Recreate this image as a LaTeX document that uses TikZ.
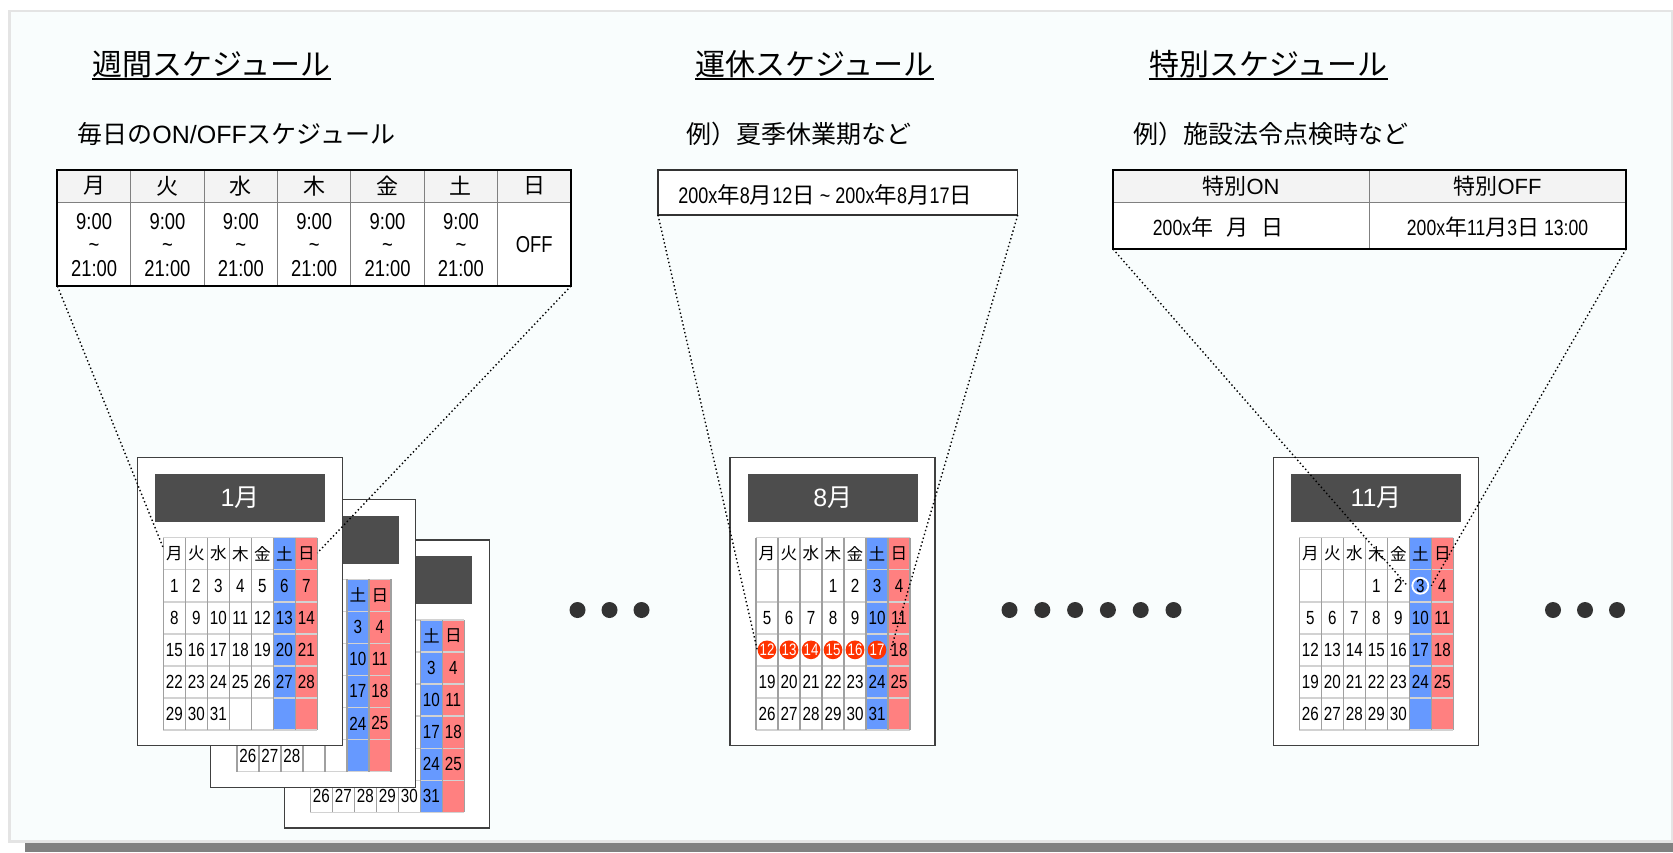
\documentclass[tikz,border=0pt]{standalone}
\usepackage{fontspec}
\setmainfont{Noto Sans CJK JP}
\newfontfamily\lat{Liberation Sans}
\newfontfamily\latn[FakeStretch=0.8]{Liberation Sans}
\newcommand\lnum[1]{{\latn #1}}
\newcommand\lnor[1]{{\lat #1}}
\definecolor{bgc}{RGB}{249,253,253}
\definecolor{framec}{RGB}{228,228,228}
\definecolor{bandc}{RGB}{128,128,128}
\definecolor{barc}{RGB}{77,77,77}
\definecolor{satc}{RGB}{102,153,255}
\definecolor{sunc}{RGB}{255,128,128}
\definecolor{hlc}{RGB}{255,51,0}
\definecolor{dotc}{RGB}{51,51,51}
\definecolor{hdrc}{RGB}{243,243,243}
\definecolor{tgridc}{RGB}{128,128,128}
\definecolor{boxc}{RGB}{51,51,51}
\definecolor{calc}{RGB}{64,64,64}
\definecolor{vgridc}{RGB}{160,160,160}
\definecolor{hgridc}{RGB}{210,210,210}
\tikzset{
  ttl/.style={anchor=base west, inner sep=0, font=\fontsize{15}{18}\selectfont},
  subt/.style={anchor=west, inner sep=0, font=\fontsize{12.5}{15}\selectfont},
  tgrid/.style={draw=tgridc, line width=0.5pt},
  tbl/.style={draw=black, line width=1pt, inner sep=0, outer sep=0},
  thead/.style={inner sep=0, font=\fontsize{11}{12}\selectfont},
  tbody/.style={inner sep=0, align=center, font={\latn\fontsize{11.5}{11.75}\selectfont}},
  cellt/.style={inner sep=0, font=\fontsize{11}{13}\selectfont},
  calborder/.style={draw=calc, line width=0.6pt, fill=white},
  calbar/.style={fill=barc, minimum width=85pt, minimum height=24pt, inner sep=0, text=white, font=\fontsize{12.5}{14}\selectfont},
  vgridl/.style={draw=vgridc, line width=0.7pt},
  hgridl/.style={draw=hgridc, line width=0.7pt},
  wday/.style={inner sep=0, font=\fontsize{8.3}{9}\selectfont},
  dnum/.style={inner sep=0, font={\latn\fontsize{9.5}{10}\selectfont}},
  hlcirc/.style={circle, fill=hlc, minimum size=9pt, inner sep=0, text=white, font={\latn\fontsize{8.3}{9}\selectfont}},
  ringc/.style={circle, draw=white, line width=0.9pt, minimum size=8pt, inner sep=0},
  dotn/.style={circle, fill=dotc, minimum size=8pt, inner sep=0},
  zoomline/.style={draw=black, line width=0.7pt, dash pattern=on 0.7pt off 1.3pt},
}
% #1 ox, #2 oy, #3 first weekday column, #4 days, #5 label, #6 name,
% #7 fully visible, #8/#9 first/last highlighted day
\newcommand\drawcal[9]{%
  \begin{scope}[shift={(#1,#2)}]
    \draw[calborder] (0,0) rectangle (205,288);
    \node[calbar] (#6) at (102.7,40.3) {#5};
    \fill[white] (26,80) rectangle (136,272.3);
    \fill[satc] (136,80) rectangle (158,272.3);
    \fill[sunc] (158,80) rectangle (180,272.3);
    \foreach \rw in {0,...,6} \draw[hgridl] (26,{80+32.05*\rw}) -- (180,{80+32.05*\rw});
    \foreach \cl in {0,...,7} \draw[vgridl] ({26+22*\cl},80) -- ({26+22*\cl},272.3);
    \foreach \w [count=\cl from 0] in {月,火,水,木,金,土,日} {
      \pgfmathtruncatemacro\showit{max(#7,\cl>4)}
      \ifnum\showit=1 \node[wday] (#6w\cl) at ({37+22*\cl},96) {\w};\fi
    }
    \foreach \d in {1,...,#4} {
      \pgfmathtruncatemacro\pp{#3+\d-1}
      \pgfmathtruncatemacro\rr{floor(\pp/7)+1}
      \pgfmathtruncatemacro\cc{mod(\pp,7)}
      \pgfmathtruncatemacro\showit{max(#7,\cc>4,\rr==5)}
      \pgfmathtruncatemacro\ishl{and(\d>=#8,\d<=#9)}
      \ifnum\showit=1
        \ifnum\ishl=1
          \node[hlcirc] (#6h\d) at ({37+22*\cc},{96+32.05*\rr}) {\d};
        \else
          \node[dnum] (#6d\d) at ({37+22*\cc},{96+32.05*\rr}) {\d};
        \fi
      \fi
    }
  \end{scope}}
\begin{document}
\begin{tikzpicture}[x=0.5pt,y=-0.5pt]
\useasboundingbox (0,0) rectangle (1673,852);
\fill[white] (0,0) rectangle (1673,852);
\fill[bandc] (25,843) rectangle (1673,852);
\draw[draw=framec, line width=1.2pt, fill=bgc] (9.5,11) rectangle (1672,841.5);

% titles
\node[ttl] (t1) at (92,75) {週間スケジュール};
\node[ttl] (t2) at (695,75) {運休スケジュール};
\node[ttl] (t3) at (1149,75) {特別スケジュール};
\foreach \t in {t1,t2,t3}
  \draw[line width=1pt] ([yshift=-2pt]\t.base west) -- ([yshift=-2pt]\t.base east);

% subtitles
\node[subt] (s1) at (77,134) {毎日の\lnor{ON/OFF}スケジュール};
\node[subt] (s2) at (686,134) {例）夏季休業期など};
\node[subt] (s3) at (1133,134) {例）施設法令点検時など};

% weekly table
\fill[hdrc] (57.4,170) rectangle (571,202);
\fill[white] (57.4,202) rectangle (571,286);
\foreach \i in {1,...,6} \draw[tgrid] ({57.4+73.37*\i},170) -- ({57.4+73.37*\i},286);
\draw[tgrid] (57.4,202) -- (571,202);
\node[tbl, minimum width=256.8pt, minimum height=58pt] (wt) at (314.2,228) {};
\foreach \w [count=\i from 0] in {月,火,水,木,金,土,日}
  \node[thead] (wh\i) at ({57.4+73.37*(\i+0.5)},186) {\w};
\foreach \i in {0,...,5}
  \node[tbody] (wb\i) at ({57.4+73.37*(\i+0.5)},245) {9:00\\\textasciitilde\\21:00};
\node[tbody] (wb6) at ({57.4+73.37*6.5},245) {OFF};

% holiday box
\node[draw=boxc, line width=0.7pt, fill=white, minimum width=179.85pt, minimum height=22.5pt, inner sep=0, outer sep=0] (hb) at (837.85,192.5) {};
\node[anchor=west, inner sep=0, font=\fontsize{11.25}{13}\selectfont] (hbt) at (678,195)
  {\lnum{200x}年\lnum{8}月\lnum{12}日\lnum{\ \textasciitilde\ 200x}年\lnum{8}月\lnum{17}日};

% special table
\fill[hdrc] (1113,170) rectangle (1626,202);
\fill[white] (1113,202) rectangle (1626,249);
\draw[tgrid] (1369,170) -- (1369,249);
\draw[tgrid] (1113,202) -- (1626,202);
\node[tbl, minimum width=256.5pt, minimum height=39.5pt] (st) at (1369.5,209.5) {};
\node[cellt] (sh1) at (1241,186) {特別\lnor{ON}};
\node[cellt] (sh2) at (1497.5,186) {特別\lnor{OFF}};
\node[cellt] (sb1) at (1218,227) {\lnum{200x}年\hspace{6.5pt}月\hspace{6.5pt}日};
\node[cellt] (sb2) at (1497.5,227) {\lnum{200x}年\lnum{11}月\lnum{3}日\lnum{\ 13:00}};

% calendars
\drawcal{284.3}{540}{3}{31}{}{cal3}{0}{0}{0}
\drawcal{210.8}{499.2}{3}{28}{}{cal2}{0}{0}{0}
\drawcal{137.3}{457.7}{0}{31}{\lnor{1}月}{cal1}{1}{0}{0}
\drawcal{730}{457.7}{3}{31}{\lnor{8}月}{cal8}{1}{12}{17}
\drawcal{1273.3}{457.7}{3}{30}{\lnor{11}月}{cal11}{1}{0}{0}

% ring around 11/3
\node[ringc] (ring3) at (cal11d3) {};

% ellipsis dots
\foreach \k in {0,1,2} \node[dotn] (ea\k) at ({577.5+32*\k},610) {};
\foreach \k in {0,...,5} \node[dotn] (eb\k) at ({1009.5+32.8*\k},610) {};
\foreach \k in {0,1,2} \node[dotn] (ec\k) at ({1553+32*\k},610) {};

% zoom connectors
\coordinate (cal1L) at (163.3,548);
\coordinate (cal1R) at (317.3,553);
\draw[zoomline] (wt.south west) -- (cal1L);
\draw[zoomline] (wt.south east) -- (cal1R);
\draw[zoomline] (hb.south west) -- (cal8h12.west);
\draw[zoomline] (hb.south east) -- ([xshift=2pt]cal8h17.east);
\draw[zoomline] (st.south west) -- ([xshift=-2pt]ring3.west);
\draw[zoomline] (st.south east) -- ([xshift=1pt]ring3.east);
\end{tikzpicture}
\end{document}
